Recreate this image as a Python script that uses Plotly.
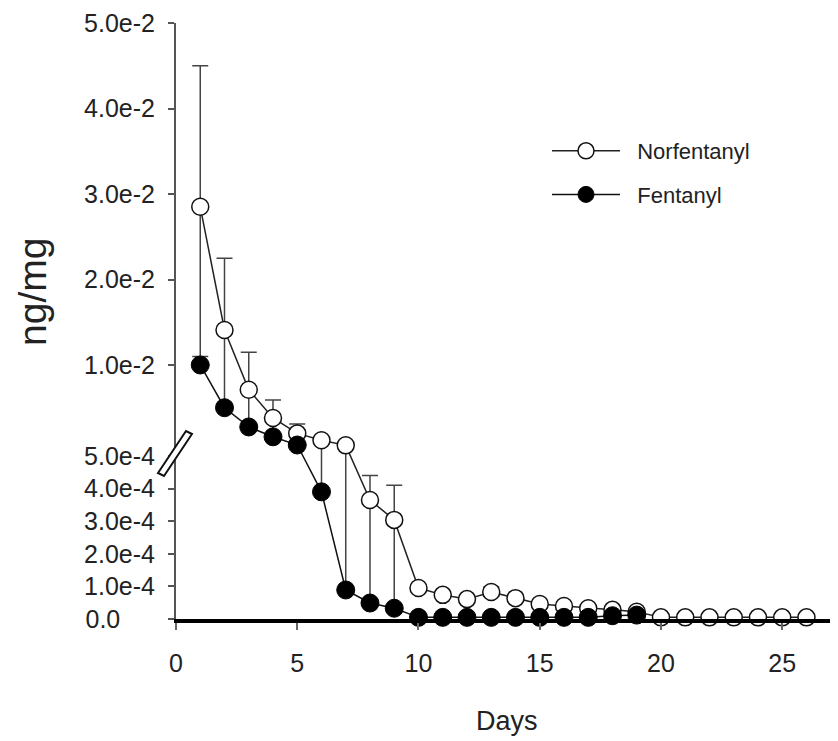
import plotly.graph_objects as go

# ---------------- data (ng/mg) ----------------
days_norf = [1, 2, 3, 4, 5, 6, 7, 8, 9, 10, 11, 12, 13, 14, 15, 16, 17, 18, 19,
             20, 21, 22, 23, 24, 25, 26]
norf = [0.0285, 0.0141, 0.0071, 0.0038, 0.0020, 0.0012, 0.0006, 3.65e-4, 3.04e-4,
        0.95e-4, 0.74e-4, 0.61e-4, 0.83e-4, 0.64e-4, 0.46e-4, 0.40e-4, 0.33e-4,
        0.28e-4, 0.22e-4, 5e-6, 5e-6, 5e-6, 5e-6, 5e-6, 5e-6, 5e-6]
norf_hi = [0.045, 0.0225, 0.0115, 0.0059, 0.0031, 0.0013, 0.0007, 4.4e-4, 4.1e-4,
           1.0e-4, 0.8e-4, 0.65e-4, 0.98e-4, 0.7e-4, 0.5e-4, 0.43e-4, 0.36e-4,
           0.3e-4, 0.24e-4, 5e-6, 5e-6, 5e-6, 5e-6, 5e-6, 5e-6, 5e-6]
norf_lo = [0.0110, 0.0055, 0.0028, 0.0017, 0.0009, 3.9e-4, 0.9e-4, 0.5e-4, 0.33e-4,
           0.9e-4, 0.7e-4, 0.57e-4, 0.7e-4, 0.58e-4, 0.42e-4, 0.37e-4, 0.3e-4,
           0.26e-4, 0.2e-4, 5e-6, 5e-6, 5e-6, 5e-6, 5e-6, 5e-6, 5e-6]

days_fen = [1, 2, 3, 4, 5, 6, 7, 8, 9, 10, 11, 12, 13, 14, 15, 16, 17, 18, 19]
fen = [0.0100, 0.0050, 0.00275, 0.0016, 0.00064, 3.9e-4, 0.89e-4, 0.49e-4, 0.33e-4,
       5e-6, 5e-6, 5e-6, 5e-6, 5e-6, 5e-6, 5e-6, 5e-6, 1e-5, 1.2e-5]

x_ticks = [0, 5, 10, 15, 20, 25]
y_tick_values = [0.0, 1e-4, 2e-4, 3e-4, 4e-4, 5e-4, 1e-2, 2e-2, 3e-2, 4e-2, 5e-2]
y_tick_labels = ["0.0\u00a0\u00a0\u00a0\u00a0\u00a0", "1.0e-4", "2.0e-4", "3.0e-4",
                 "4.0e-4", "5.0e-4", "1.0e-2", "2.0e-2", "3.0e-2", "4.0e-2", "5.0e-2"]

# ---------------- broken-axis scale ----------------
BREAK = 5e-4      # top of lower segment
UNIT = 1e-4       # lower segment unit
GAP = 0.3         # gap between segments (axis units)
UP_RATIO = 0.02622  # compression of upper segment


def tr(v):
    if v <= BREAK:
        return v / UNIT
    return BREAK / UNIT + GAP + (v - BREAK) / UNIT * UP_RATIO


norf_t = [tr(v) for v in norf]
norf_plus = [tr(h) - tr(v) for h, v in zip(norf_hi, norf)]
norf_minus = [tr(v) - tr(l) for l, v in zip(norf_lo, norf)]
fen_t = [tr(v) for v in fen]
y_tick_t = [tr(v) for v in y_tick_values]

FONT = "Liberation Sans, Arial, sans-serif"

fig = go.Figure()
fig.add_trace(go.Scatter(
    x=days_norf, y=norf_t, name="\u00a0\u00a0Norfentanyl", mode="lines+markers",
    legendgroup="a",
    line=dict(color="#222", width=1.5),
    marker=dict(symbol="circle", size=17, color="white", line=dict(color="#111", width=1.5)),
    error_y=dict(type="data", symmetric=False, array=norf_plus, arrayminus=norf_minus,
                 color="#444", thickness=1.5, width=8),
    cliponaxis=False,
))
fig.add_trace(go.Scatter(
    x=days_fen, y=fen_t, name="\u00a0\u00a0Fentanyl", mode="lines+markers",
    legendgroup="b",
    line=dict(color="#111", width=1.5),
    marker=dict(symbol="circle", size=18, color="black", line=dict(color="black", width=1)),
    cliponaxis=False,
))

# page body has an 8px margin: figure is offset by (8, 8) in the window
OFF = 8
PL, PT, PB, PR = 176, 23, 619, 838   # plot area in window pixels
W, H = 838 - OFF, 741 - OFF
pw, ph = PR - PL, PB - PT


def px(x, y):
    return (x - PL) / pw, (PB - y) / ph


a = px(158, 473); b = px(186, 431); c = px(192, 434); d = px(164, 476)
fig.add_shape(type="path", xref="paper", yref="paper",
              path=f"M{a[0]},{a[1]} L{b[0]},{b[1]} L{c[0]},{c[1]} L{d[0]},{d[1]} Z",
              fillcolor="white", line=dict(color="#111", width=2), layer="above")

fig.update_layout(
    width=W, height=H,
    margin=dict(l=PL - OFF, r=W - (PR - OFF), t=PT - OFF, b=H - (PB - OFF)),
    paper_bgcolor="white", plot_bgcolor="white",
    font=dict(family=FONT, size=25, color="#222"),
    showlegend=True,
    legend=dict(x=px(547, 0)[0], y=px(0, 130)[1], xanchor="left", yanchor="top",
                bgcolor="rgba(0,0,0,0)", font=dict(family=FONT, size=22, color="#222"),
                traceorder="grouped", tracegroupgap=12, itemwidth=68),
    xaxis=dict(range=[0, 27.3], tickvals=x_ticks, ticks="outside", ticklen=7,
               tickwidth=1.5, tickcolor="#666", showline=True, linecolor="black",
               linewidth=4, showgrid=False, zeroline=False,
               tickfont=dict(family=FONT, size=25, color="#222"), ticklabelstandoff=12),
    yaxis=dict(range=[0, 18.28], tickvals=y_tick_t, ticktext=y_tick_labels,
               ticks="outside", ticklen=6, tickwidth=1.5, tickcolor="#555",
               showline=True, linecolor="#555", linewidth=2, showgrid=False,
               zeroline=False, tickfont=dict(family=FONT, size=25, color="#222"),
               ticklabelstandoff=8),
    annotations=[
        dict(text="Days", xref="paper", yref="paper", x=px(507, 0)[0], y=px(0, 721)[1],
             xanchor="center", yanchor="middle", showarrow=False,
             font=dict(family=FONT, size=27, color="#222")),
        dict(text="ng/mg", xref="paper", yref="paper", x=px(32, 0)[0], y=px(0, 292)[1],
             xanchor="center", yanchor="middle", showarrow=False, textangle=-90,
             font=dict(family=FONT, size=39, color="#222")),
    ],
)

fig.write_html("out.html")
